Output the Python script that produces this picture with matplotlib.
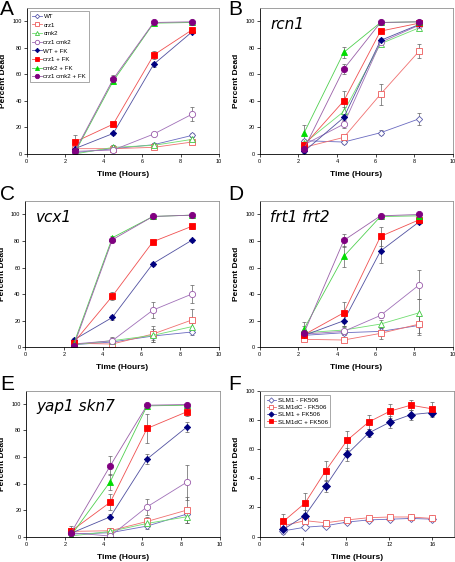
import matplotlib
matplotlib.use("Agg")
import matplotlib.pyplot as plt

plt.rcParams['font.family'] = ['Liberation Sans', 'DejaVu Sans']

# === data ===
labels = ["WT", "crz1", "cmk2", "crz1 cmk2",
          "WT + FK", "crz1 + FK", "cmk2 + FK", "crz1 cmk2 + FK"]

# panel A
a_x = [2.5, 4.5, 6.6, 8.6]
a_y = [
    [1, 4, 7, 14],
    [4, 4, 5, 9],
    [0, 5, 6.5, 11],
    [2, 3, 15, 30],
    [4, 15.5, 67.5, 92],
    [9, 22.5, 74.5, 93.5],
    [1, 55, 98.5, 99],
    [2, 56.5, 99, 99.5],
]
a_err = [
    [1, 2, 1.5, 1.5],
    [1, 2, 1, 1.5],
    [0.5, 2, 1.5, 1.5],
    [1, 3.5, 1.5, 5.5],
    [1, 1, 2, 1],
    [5, 1, 3, 1],
    [0.5, 1, 0.5, 0.5],
    [1, 3, 1, 0.5],
]

# panel B (rcn1)
b_x = [2.3, 4.35, 6.25, 8.25]
b_y = [
    [10, 9, 16, 26.5],
    [5, 12.5, 45, 77.5],
    [8, 32, 83, 95],
    [7, 22.5, 84, 97],
    [2, 27.5, 85.5, 97.5],
    [6.5, 40, 92.5, 98.5],
    [16, 76.5, 99, 99.5],
    [4, 64, 99, 99.5],
]
b_err = [
    [1.5, 1.5, 2, 4.5],
    [2, 2, 8, 5],
    [2, 3, 2, 1],
    [2, 3, 2, 1],
    [1.5, 3, 2, 1],
    [2, 7.5, 1, 0.5],
    [6, 4, 0.5, 0.5],
    [2, 4, 0.5, 0.5],
]

# panel C (vcx1)
c_x = [2.5, 4.5, 6.6, 8.6]
c_y = [
    [2, 4, 8.5, 11.5],
    [3, 2.5, 10, 20.5],
    [2, 5, 9, 15.5],
    [2.5, 5, 28, 40],
    [5.5, 22.5, 63, 80.5],
    [3.5, 38.5, 79.5, 91],
    [2.5, 82.5, 98.5, 99.5],
    [1, 81, 98.5, 99.5],
]
c_err = [
    [1, 1.5, 3, 2],
    [1, 2, 6, 8],
    [1, 2, 5, 3],
    [1, 3, 6, 7],
    [1.5, 2, 1.5, 1],
    [1, 3, 1.5, 2],
    [1, 1.5, 0.5, 0.5],
    [0.5, 1.5, 0.5, 0.5],
]

# panel D (frt1 frt2)
d_x = [2.3, 4.35, 6.25, 8.25]
d_y = [
    [9, 11, 12, 16.5],
    [6, 5.5, 10.5, 17.5],
    [11, 13, 17.5, 26],
    [10, 12, 24, 47],
    [9, 20, 72.5, 94.5],
    [9.5, 26, 83.5, 96],
    [14, 68.5, 98.5, 99],
    [11, 80.5, 99, 100],
]
d_err = [
    [2, 2, 3, 7],
    [1.5, 1.5, 4, 7],
    [5, 3, 3, 10],
    [2, 3, 2, 11],
    [1.5, 4, 9, 1.5],
    [2, 8, 7, 1.5],
    [5, 8, 0.5, 0.5],
    [2, 5, 0.5, 0.5],
]

# panel E (yap1 skn7)
e_x = [2.3, 4.35, 6.25, 8.3]
e_y = [
    [2, 3, 8, 17],
    [4, 4.5, 11.5, 20],
    [0.5, 4, 10, 15],
    [3, 0.5, 22.5, 41],
    [2.5, 15, 58.5, 82.5],
    [4, 26, 81.5, 94],
    [0.5, 41.5, 98.5, 99],
    [2.5, 53.5, 99, 99.5],
]
e_err = [
    [1, 2, 2, 4],
    [2, 2, 3, 10],
    [0.5, 2, 3, 5],
    [1, 1, 6, 13],
    [1, 2, 4, 4],
    [4, 6, 11, 3],
    [0.5, 6, 0.5, 0.5],
    [1.5, 7, 0.5, 0.5],
]

# panel F
f_labels = ["SLM1 - FK506", "SLM1dC - FK506", "SLM1 + FK506", "SLM1dC + FK506"]
f_x = [2.2, 4.2, 6.1, 8.1, 10.1, 12.1, 14, 16]
f_y = [
    [4, 6.5, 7.5, 10, 11.5, 12, 12.5, 12],
    [7.5, 11, 9.5, 11.5, 13, 13.5, 13.5, 12.5],
    [5, 14.5, 34.5, 56.5, 71, 78.5, 83.5, 85],
    [10.5, 23, 45, 66, 78.5, 86, 90, 87.5],
]
f_err = [
    [1, 1, 1, 1, 1, 1, 1, 1],
    [2, 2, 2, 1.5, 1.5, 1.5, 1.5, 1.5],
    [3, 4, 4, 4.5, 3, 4, 3.5, 3],
    [5, 7, 7, 6.5, 4.5, 4.5, 3.5, 5],
]

# === styles ===
styles = [
    dict(marker='D', mfc='white', mec='#5c5caa', color='#6a6ac0', ms=3.2),
    dict(marker='s', mfc='white', mec='#ee5a5a', color='#f07070', ms=4.2),
    dict(marker='^', mfc='white', mec='#40c840', color='#70dd70', ms=4.2),
    dict(marker='o', mfc='white', mec='#9a5aaa', color='#a070b8', ms=4.5),
    dict(marker='D', mfc='#000080', mec='#000080', color='#5050a0', ms=3.2),
    dict(marker='s', mfc='#ff0000', mec='#ff0000', color='#f05050', ms=4.2),
    dict(marker='^', mfc='#00dd00', mec='#00dd00', color='#50d050', ms=4.2),
    dict(marker='o', mfc='#800080', mec='#800080', color='#9a60a8', ms=4.5),
]


def style_axes(ax, xmax, xticks, ymax):
    ax.set_xlim(0, xmax)
    ax.set_ylim(0, ymax)
    ax.set_xticks(xticks)
    ax.set_yticks(range(0, 101, 20))
    ax.tick_params(labelsize=4, length=2, width=0.5, pad=1.5, direction='out')
    for side in ['top', 'right']:
        ax.spines[side].set_color('#909090')
        ax.spines[side].set_linewidth(0.6)
    for side in ['left', 'bottom']:
        ax.spines[side].set_color('black')
        ax.spines[side].set_linewidth(0.6)
    ax.set_xlabel("Time (Hours)", fontsize=6, fontweight='bold', labelpad=5)
    ax.set_ylabel("Percent Dead", fontsize=6, fontweight='bold', labelpad=4)


def draw_panel(ax, xs, ys, errs, sty):
    for y, e, s, lab in zip(ys, errs, sty, labels):
        ax.errorbar(xs, y, yerr=e, ecolor='#606060', elinewidth=0.5,
                    capsize=1.2, capthick=0.5, zorder=1, fmt='none')
        ax.plot(xs, y, color=s['color'], lw=0.6, marker=s['marker'],
                mfc=s['mfc'], mec=s['mec'], ms=s['ms'], mew=0.6,
                label=lab, zorder=2)


fig = plt.figure(figsize=(4.56, 5.62), dpi=100)

L1, L2, W = 0.0585, 0.5695, 0.424
rows = [0.726, 0.382, 0.045]
H = 0.260

axA = fig.add_axes([L1, rows[0], W - 0.002, H])
axB = fig.add_axes([L2, rows[0], W, H])
axC = fig.add_axes([L1 - 0.003, rows[1], W, H])
axD = fig.add_axes([L2, rows[1], W, H])
axE = fig.add_axes([L1 - 0.001, rows[2], W, H])
axF = fig.add_axes([L2, rows[2], W + 0.002, H])

for ax, xs, ys, es in [(axA, a_x, a_y, a_err), (axB, b_x, b_y, b_err),
                       (axC, c_x, c_y, c_err), (axD, d_x, d_y, d_err),
                       (axE, e_x, e_y, e_err)]:
    draw_panel(ax, xs, ys, es, styles)
    style_axes(ax, 10, range(0, 11, 2), 110)

f_styles = [styles[0], styles[1], styles[4], styles[5]]
for y, e, s, lab in zip(f_y, f_err, f_styles, f_labels):
    axF.errorbar(f_x, y, yerr=e, ecolor='#606060', elinewidth=0.5,
                 capsize=1.2, capthick=0.5, zorder=1, fmt='none')
    axF.plot(f_x, y, color=s['color'], lw=0.6, marker=s['marker'],
             mfc=s['mfc'], mec=s['mec'], ms=s['ms'] + 0.6, mew=0.6,
             label=lab, zorder=2)
style_axes(axF, 18, range(0, 17, 4), 100)

legA = axA.legend(loc='upper left', fontsize=4.4, frameon=True, fancybox=False,
                  edgecolor='#808080', handlelength=1.5, handletextpad=0.3,
                  borderpad=0.45, labelspacing=0.55, borderaxespad=0.5,
                  markerscale=0.7)
legA.get_frame().set_linewidth(0.6)

legF = axF.legend(loc='upper left', fontsize=4.5, frameon=True, fancybox=False,
                  edgecolor='#808080', handlelength=1.5, handletextpad=0.3,
                  borderpad=0.4, labelspacing=0.3, borderaxespad=0.7,
                  markerscale=0.7)
legF.get_frame().set_linewidth(0.6)

# gene names
for ax, name in [(axB, "rcn1"), (axC, "vcx1"), (axD, "frt1 frt2"), (axE, "yap1 skn7")]:
    ax.text(0.055, 0.94, name, transform=ax.transAxes, fontsize=11,
            style='italic', family='DejaVu Sans', ha='left', va='top')

# panel letters
for letter, x, y in [("A", 0.0, 1.0), ("B", 0.5, 1.0), ("C", 0.0, 0.671),
                     ("D", 0.5, 0.671), ("E", 0.0, 0.333), ("F", 0.5, 0.333)]:
    fig.text(x, y, letter, fontsize=15, ha='left', va='top')

fig.savefig("out.png", dpi=100)
